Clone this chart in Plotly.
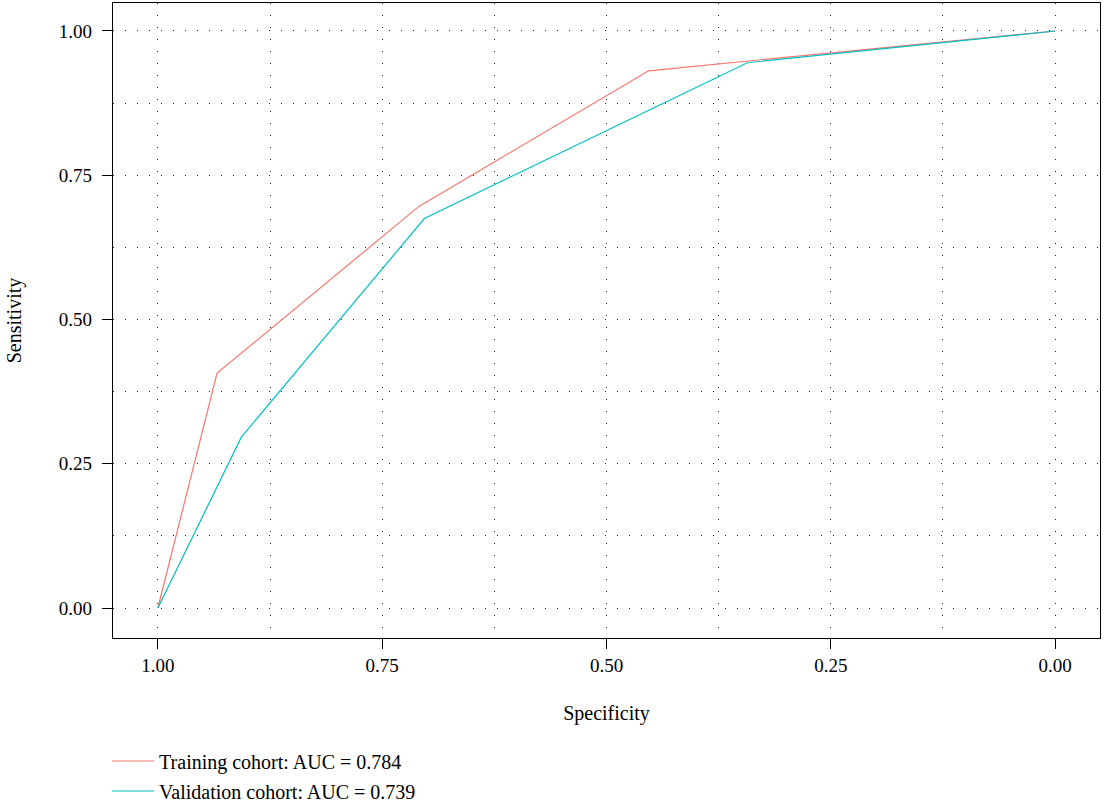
import plotly.graph_objects as go

# ROC data (specificity, sensitivity)
train_spec = [1.00, 0.934, 0.709, 0.453, 0.00]
train_sens = [0.00, 0.407, 0.696, 0.931, 1.00]
valid_spec = [1.00, 0.907, 0.703, 0.343, 0.00]
valid_sens = [0.00, 0.296, 0.675, 0.945, 1.00]
train_label = "Training cohort: AUC = 0.784"
valid_label = "Validation cohort: AUC = 0.739"
tick_vals = [0.00, 0.25, 0.50, 0.75, 1.00]
tick_text = ["0.00", "0.25", "0.50", "0.75", "1.00"]

FONT = "Liberation Serif"
GRID = dict(color="#222222", dash="1px,11px")

fig = go.Figure()
fig.add_trace(go.Scatter(x=train_spec, y=train_sens, mode="lines", name=train_label,
                         line=dict(color="#F8766D", width=1.2), legendgroup="a"))
fig.add_trace(go.Scatter(x=valid_spec, y=valid_sens, mode="lines", name=valid_label,
                         line=dict(color="#00BFC4", width=1.2), legendgroup="b"))

axis_common = dict(
    showline=True, mirror=True, linecolor="black", linewidth=1.3,
    ticks="outside", ticklen=10, tickwidth=1.3, tickcolor="black",
    showgrid=True, gridcolor=GRID["color"], griddash=GRID["dash"], gridwidth=1,
    zeroline=False, tickfont=dict(family=FONT, size=19, color="black"),
    tickvals=tick_vals, ticktext=tick_text, automargin=False,
    minor=dict(dtick=0.125, tick0=0, showgrid=True, gridcolor=GRID["color"],
               griddash=GRID["dash"], gridwidth=1, ticks=""),
)

fig.update_xaxes(range=[1.05, -0.05], title=dict(text="Specificity", font=dict(family=FONT, size=20, color="black"), standoff=31),
                 **axis_common)
fig.update_yaxes(range=[-0.052, 1.0485], title=dict(text="Sensitivity", font=dict(family=FONT, size=20, color="black"), standoff=31),
                 ticklabelstandoff=6, **axis_common)

fig.update_layout(
    width=1104, height=808,
    margin=dict(l=113, r=4, t=3, b=170, autoexpand=False),
    plot_bgcolor="white", paper_bgcolor="white",
    font=dict(family=FONT, size=20, color="black"),
    showlegend=True,
    legend=dict(x=-0.006, xanchor="left", y=-0.163, yanchor="top",
                font=dict(family=FONT, size=20, color="black"),
                itemwidth=42, tracegroupgap=1, bgcolor="rgba(0,0,0,0)"),
)

fig.write_html("out.html", config={"displayModeBar": False},
               post_script="document.body.style.margin='0px';")
